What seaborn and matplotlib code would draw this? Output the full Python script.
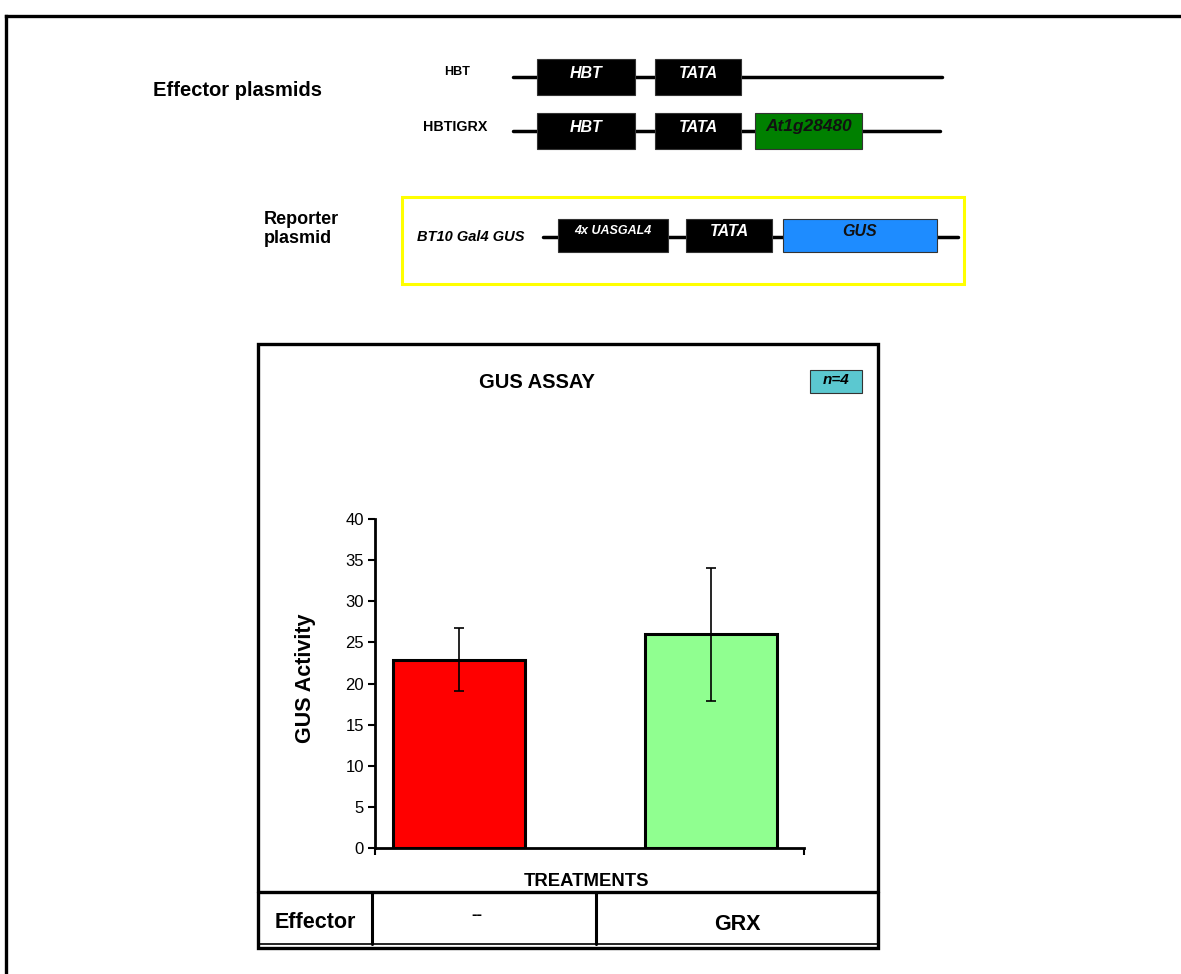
import matplotlib
matplotlib.use("Agg")
import matplotlib.pyplot as plt
import matplotlib.patches as mpatches
import seaborn as sns
import pandas as pd

# Datos del ensayo GUS
tratamientos = ["--", "GRX"]
actividad = [22.9, 26.0]
error = [3.8, 8.1]
colores = ["#FF0000", "#90FF90"]
yticks = [0, 5, 10, 15, 20, 25, 30, 35, 40]

df = pd.DataFrame({"Tratamiento": tratamientos, "Actividad": actividad})

sns.set_theme(style="white")
plt.rcParams["font.family"] = ["Liberation Sans", "DejaVu Sans"]
plt.rcParams["text.color"] = "black"
plt.rcParams["axes.labelcolor"] = "black"
plt.rcParams["xtick.color"] = "black"
plt.rcParams["ytick.color"] = "black"

W, H = 1181, 974
fig = plt.figure(figsize=(W / 100, H / 100), dpi=100)

# Fondo en coordenadas de pixel para el esquema de plasmidos
bg = fig.add_axes([0, 0, 1, 1])
bg.set_xlim(0, W)
bg.set_ylim(H, 0)
bg.axis("off")

# marco exterior (cortado a la derecha y abajo)
bg.plot([6, W + 5], [16, 16], color="black", lw=2.4, solid_capstyle="projecting")
bg.plot([6, 6], [16, H + 5], color="black", lw=2.4, solid_capstyle="projecting")


def caja(x0, x1, y0, y1, fc, texto, tc, fs, ec="#333333"):
    bg.add_patch(mpatches.Rectangle((x0, y0), x1 - x0, y1 - y0, facecolor=fc,
                                    edgecolor=ec, lw=0.8, zorder=3))
    bg.text((x0 + x1) / 2, (y0 + y1) / 2 - 4, texto, color=tc, fontsize=fs,
            fontweight="bold", fontstyle="italic", ha="center", va="center", zorder=4)


# Efectores
bg.text(153, 90, "Effector plasmids", fontsize=14.5, fontweight="bold", ha="left", va="center")
bg.text(457, 72, "HBT", fontsize=9, fontweight="bold", ha="center", va="center")
bg.plot([513, 942], [77, 77], color="black", lw=2.5, zorder=2)
caja(537, 635, 59, 95, "black", "HBT", "white", 11.5)
caja(655, 741, 59, 95, "black", "TATA", "white", 11.5)

bg.text(455, 127, "HBTIGRX", fontsize=10.3, fontweight="bold", ha="center", va="center")
bg.plot([513, 940], [131, 131], color="black", lw=2.5, zorder=2)
caja(537, 635, 113, 149, "black", "HBT", "white", 11.5)
caja(655, 741, 113, 149, "black", "TATA", "white", 11.5)
caja(755, 862, 113, 149, "#008000", "At1g28480", "#111111", 12.5)

# Reportero
bg.add_patch(mpatches.Rectangle((402, 197), 562, 87, facecolor="none",
                                edgecolor="#FFFF00", lw=2.2))
bg.text(264, 229, "Reporter\nplasmid", fontsize=13, fontweight="bold", ha="left",
        va="center", linespacing=1.1)
bg.text(417, 237, "BT10 Gal4 GUS", fontsize=10.5, fontweight="bold", fontstyle="italic",
        ha="left", va="center")
bg.plot([543, 958], [237, 237], color="black", lw=2.5, zorder=2)
caja(558, 668, 219, 252, "black", "4x UASGAL4", "white", 9)
caja(686, 772, 219, 252, "black", "TATA", "white", 11.5)
caja(783, 937, 219, 252, "#1E8CFF", "GUS", "#111111", 11.5)

# Caja del grafico y tabla
bg.add_patch(mpatches.Rectangle((258, 344), 620, 604, facecolor="none",
                                edgecolor="black", lw=2.4, zorder=1))
bg.plot([258, 878], [892, 892], color="black", lw=2.4)
bg.plot([258, 878], [944, 944], color="black", lw=1.2)
bg.plot([372, 372], [892, 944], color="black", lw=2.2)
bg.plot([596, 596], [892, 944], color="black", lw=2.2)
bg.text(315, 922, "Effector", fontsize=15.5, fontweight="bold", ha="center", va="center")
bg.text(477, 915, tratamientos[0], fontsize=12, fontweight="bold", ha="center", va="center")
bg.text(737, 925, tratamientos[1], fontsize=15.5, fontweight="bold", ha="center", va="center")

bg.text(537, 382, "GUS ASSAY", fontsize=14.5, fontweight="bold", ha="center", va="center")
bg.add_patch(mpatches.Rectangle((810, 370), 52, 23, facecolor="#5BC8D0",
                                edgecolor="#333333", lw=0.8))
bg.text(836, 380, "n=4", fontsize=11, fontweight="bold", fontstyle="italic",
        ha="center", va="center")

# Grafico de barras
ax_l, ax_r, ax_t, ax_b = 375, 804, 519, 848
ax = fig.add_axes([ax_l / W, (H - ax_b) / H, (ax_r - ax_l) / W, (ax_b - ax_t) / H])
ax.patch.set_alpha(0)
sns.barplot(data=df, x="Tratamiento", y="Actividad", hue="Tratamiento",
            palette=colores, saturation=1, edgecolor="black", linewidth=2.2,
            width=0.524, legend=False, ax=ax)
ax.errorbar(range(len(tratamientos)), actividad, yerr=error, fmt="none",
            ecolor="black", elinewidth=1.2, capsize=3.5, capthick=1.2)

ax.set_xlim(-0.335, 1.37)
ax.set_ylim(0, 40)
ax.set_yticks(yticks)
ax.set_yticklabels([str(v) for v in yticks], fontsize=12)
ax.set_xticks([-0.335, 1.37])
ax.set_xticklabels(["", ""])
ax.tick_params(axis="both", direction="out", length=5, width=1.5, color="black",
               left=True, bottom=True, pad=3)
for s in ["top", "right"]:
    ax.spines[s].set_visible(False)
for s in ["left", "bottom"]:
    ax.spines[s].set_color("black")
    ax.spines[s].set_linewidth(2)

ax.set_ylabel("GUS Activity", fontsize=15.5, fontweight="bold")
ax.yaxis.set_label_coords((316 - ax_l) / (ax_r - ax_l), (ax_b - 678) / (ax_b - ax_t))
ax.set_xlabel("TREATMENTS", fontsize=13.3, fontweight="bold")
ax.xaxis.set_label_coords((586 - ax_l) / (ax_r - ax_l), (ax_b - 873) / (ax_b - ax_t))

fig.savefig("out.png", dpi=100, facecolor="white")
